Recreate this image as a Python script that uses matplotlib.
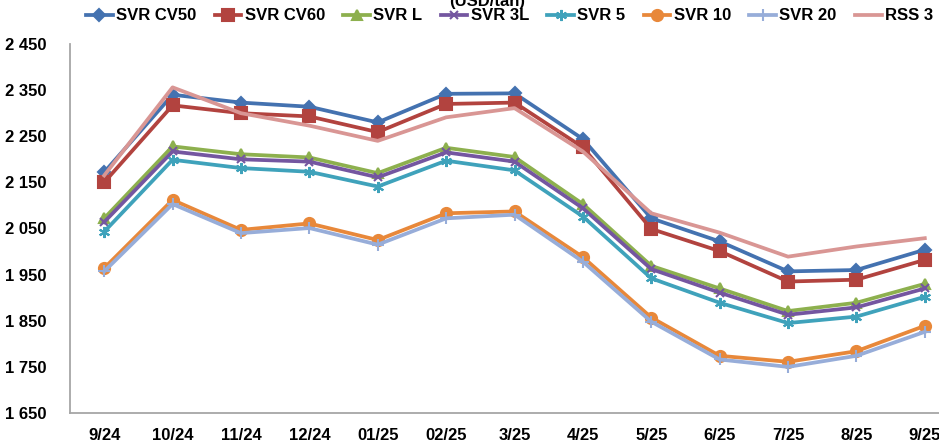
import numpy as np
import matplotlib.pyplot as plt
from matplotlib.ticker import FuncFormatter

plt.rcParams['font.family'] = ['Liberation Sans', 'DejaVu Sans']
plt.rcParams['font.weight'] = 'bold'

# months on the x axis
months = ["9/24", "10/24", "11/24", "12/24", "01/25", "02/25", "3/25",
          "4/25", "5/25", "6/25", "7/25", "8/25", "9/25"]

# prices, USD/ton
svr_cv50 = [2172, 2340, 2323, 2314, 2280, 2342, 2343, 2244, 2072, 2022, 1957, 1960, 2004]
svr_cv60 = [2150, 2317, 2300, 2293, 2259, 2320, 2323, 2226, 2049, 2001, 1935, 1939, 1982]
svr_l    = [2072, 2228, 2211, 2204, 2170, 2225, 2205, 2103, 1969, 1920, 1871, 1889, 1930]
svr_3l   = [2064, 2217, 2200, 2195, 2161, 2215, 2195, 2094, 1962, 1911, 1863, 1879, 1920]
svr_5    = [2043, 2199, 2181, 2173, 2141, 2197, 2176, 2076, 1942, 1889, 1845, 1859, 1902]
svr_10   = [1964, 2112, 2047, 2061, 2025, 2083, 2087, 1988, 1857, 1774, 1761, 1784, 1839]
svr_20   = [1957, 2103, 2040, 2051, 2015, 2072, 2080, 1978, 1848, 1766, 1750, 1774, 1826]
rss_3    = [2165, 2356, 2300, 2273, 2240, 2291, 2311, 2217, 2083, 2041, 1989, 2011, 2029]

series = [
    ("SVR CV50", svr_cv50, '#4472B0', 'D', 6),
    ("SVR CV60", svr_cv60, '#B2433F', 's', 8),
    ("SVR L", svr_l, '#8DB04E', '^', 7),
    ("SVR 3L", svr_3l, '#7456A0', 'x', 6),
    ("SVR 5", svr_5, '#3FA2BB', (6, 2, 0), 8),
    ("SVR 10", svr_10, '#E8883A', 'o', 8),
    ("SVR 20", svr_20, '#97ADD9', '+', 8),
    ("RSS 3", rss_3, '#D99694', None, 0),
]

fig = plt.figure(figsize=(9.39, 4.45), dpi=100)
ax = fig.add_axes([70/939, 1 - 413/445, 889/939, 369/445])

x = np.arange(len(months))
for name, vals, col, mk, ms in series:
    ax.plot(x, vals, color=col, lw=2.7, marker=mk, markersize=ms,
            markeredgewidth=1.5, label=name, clip_on=False)

ax.set_xlim(-0.5, len(months) - 0.5)
ax.set_ylim(1650, 2450)
ax.set_yticks(np.arange(1650, 2451, 100))
ax.yaxis.set_major_formatter(FuncFormatter(lambda v, p: f"{int(v):,}".replace(",", " ")))
ax.set_xticks(x)
ax.set_xticklabels(months)

for s in ['top', 'right']:
    ax.spines[s].set_visible(False)
for s in ['left', 'bottom']:
    ax.spines[s].set_color('#A6A6A6')
    ax.spines[s].set_linewidth(1.3)
ax.tick_params(axis='y', length=0, pad=17, labelsize=12)
ax.tick_params(axis='x', length=0, pad=11, labelsize=12)

fig.legend(loc='center left', bbox_to_anchor=(86/939, 1 - 16/445), ncol=8,
           frameon=False, fontsize=12, handlelength=1.6, handletextpad=0.2,
           columnspacing=1.1, borderaxespad=0, borderpad=0)

fig.text(487/939, 1 - 9/445, "(USD/tấn)", ha='center', va='bottom',
         fontsize=12, fontweight='bold')

fig.savefig("out.png", dpi=100)
